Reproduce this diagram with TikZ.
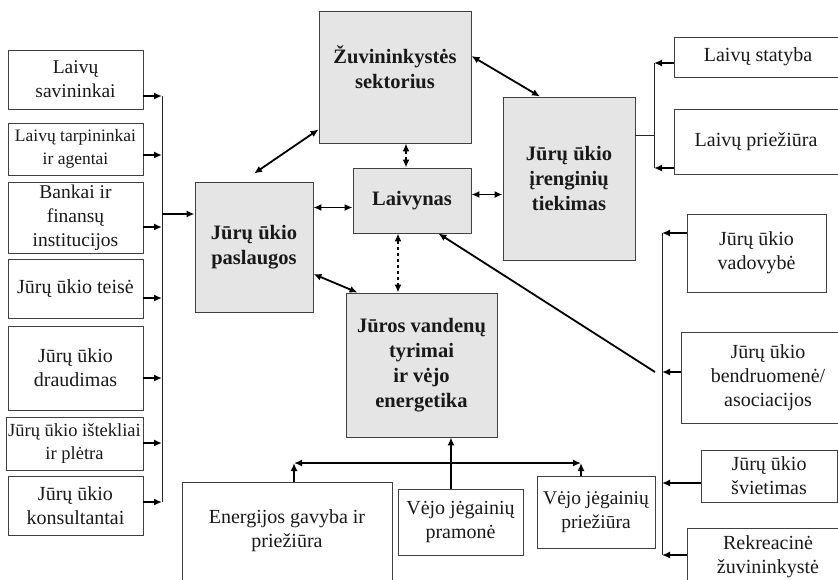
\documentclass[tikz,border=0pt]{standalone}
\usepackage{fontspec}
\setmainfont{Liberation Serif}
\usetikzlibrary{arrows.meta}

\begin{document}
\begin{tikzpicture}[x=1pt,y=-1pt,
    sz/.style 2 args={minimum width=#1pt,minimum height=#2pt},
    box/.style={draw=black!75,line width=0.9pt,align=center,inner sep=0pt,text=black!90,font=\fontsize{20}{24}\selectfont},
    core/.style={box,fill=black!10,font=\fontsize{20.5}{25}\selectfont\bfseries},
    arr/.style={line width=1.8pt,-{Latex[length=8pt,width=7pt]}},
    biarr/.style={line width=1.8pt,{Latex[length=8pt,width=7pt]}-{Latex[length=8pt,width=7pt]}},
    bus/.style={line width=0.9pt,black!85}]
    \useasboundingbox (0,0) rectangle (838,579);

    % Left column
    \node[box,sz={135}{59},font=\fontsize{19.5}{24}\selectfont] (owners) at (75.5,79.5) {Laivų\\savininkai};
    \node[box,sz={135}{52},font=\fontsize{17.5}{23}\selectfont] (brokers) at (75.5,149) {Laivų tarpininkai\\ir agentai};
    \node[box,sz={135}{71},font=\fontsize{19.5}{24}\selectfont] (banks) at (75.5,217.5) {Bankai ir\\finansų\\institucijos};
    \node[box,sz={135}{59}] (law) at (75.5,288.5) {Jūrų ūkio teisė};
    \node[box,sz={135}{84}] (insur) at (75.5,368) {Jūrų ūkio\\draudimas};
    \node[box,sz={137}{53},font=\fontsize{18.5}{23}\selectfont] (resour) at (74.5,443.5) {Jūrų ūkio ištekliai\\ir plėtra};
    \node[box,sz={135}{59}] (consult) at (75.5,505.5) {Jūrų ūkio\\konsultantai};

    % Core sectors
    \node[core,sz={152}{132}] (fish) at (395,77) {Žuvininkystės\\sektorius\\[-5pt]};
    \node[core,sz={118}{130}] (serv) at (254,247) {Jūrų ūkio\\paslaugos};
    \node[core,sz={118}{65}] (fleet) at (412,200.5) {Laivynas};
    \node[core,sz={151}{144}] (research) at (421.5,365) {Jūros vandenų\\tyrimai\\ir vėjo\\energetika};
    \node[core,sz={132}{163}] (supply) at (569,178.5) {Jūrų ūkio\\įrenginių\\tiekimas};

    % Right top
    \node[box,sz={168}{40}] (build) at (758,57) {Laivų statyba};
    \node[box,sz={164}{65}] (repair) at (756,141.5) {Laivų priežiūra};

    % Right column
    \node[box,sz={139}{78}] (manage) at (756.5,253) {Jūrų ūkio\\vadovybė};
    \node[box,sz={174}{91}] (assoc) at (768,377.5) {Jūrų ūkio\\bendruomenė/\\asociacijos};
    \node[box,sz={136}{52}] (edu) at (769,476) {Jūrų ūkio\\švietimas};
    \node[box,sz={162}{58}] (recr) at (768,557) {Rekreacinė\\žuvininkystė};

    % Bottom row
    \node[box,sz={210}{98}] (energy) at (287,531) {Energijos gavyba ir\\priežiūra};
    \node[box,sz={125}{66}] (windind) at (460.5,522) {Vėjo jėgainių\\pramonė};
    \node[box,sz={118}{72},font=\fontsize{19.5}{24}\selectfont] (windrep) at (596,512) {Vėjo jėgainių\\priežiūra};

    % Left bus
    \coordinate (lt) at (162,96);
    \coordinate (lb) at (162,502);
    \draw[bus] (lt) -- (lb);
    \draw[arr] (owners.east |- lt) -- (lt);
    \draw[arr] (brokers.east |- 162,155) -- (162,155);
    \draw[arr] (banks.east |- 162,227) -- (162,227);
    \draw[arr] (law.east |- 162,298) -- (162,298);
    \draw[arr] (insur.east |- 162,378) -- (162,378);
    \draw[arr] (resour.east |- 162,443) -- (162,443);
    \draw[arr] (consult.east |- lb) -- (lb);
    \draw[arr] (162,214) -- (serv.west |- 162,214);

    % Links between core sectors
    \draw[biarr] ([yshift=14pt]fish.south west) -- ([yshift=8pt]serv.north);
    \draw[biarr] ([yshift=21pt]fish.east) -- ([xshift=-29pt]supply.north);
    \draw[biarr,dashed] ([xshift=11pt]fish.south) -- ([xshift=-6pt]fleet.north);
    \draw[biarr] ([yshift=6pt]fleet.east) -- ([yshift=6pt]fleet.east -| supply.west);
    \draw[biarr] ([yshift=-7pt]fleet.west) -- ([yshift=-7pt]fleet.west -| serv.east);
    \draw[biarr,dashed] ([xshift=-14pt]fleet.south) -- ([xshift=-14pt]fleet.south |- research.north);
    \draw[biarr] ([yshift=-27pt]serv.east) -- ([xshift=12pt]research.north west);

    % Shipbuilding and repair
    \draw[bus] (supply.east |- 654,135) -- (654,135);
    \draw[bus] (654,63) -- (654,168);
    \draw[arr] (build.west |- 654,63) -- (654,63);
    \draw[arr] (repair.west |- 654,168) -- (654,168);

    % Right bus
    \coordinate (rt) at (662,233);
    \coordinate (rb) at (662,555);
    \coordinate (rj) at (655,372);
    \draw[bus] (rt) -- (rb);
    \draw[arr] (manage.west |- rt) -- (rt);
    \draw[arr] (assoc.west |- 662,372) -- (662,372);
    \draw[arr] (edu.west |- 662,483) -- (662,483);
    \draw[arr] (recr.west |- rb) -- (rb);
    \draw[arr] (rj) -- ([xshift=-33pt]fleet.south east);

    % Energy links
    \coordinate (hl) at (294,463);
    \coordinate (hr) at (581,463);
    \draw[arr] ([xshift=-9.5pt]windind.north) -- ([xshift=-9.5pt]windind.north |- research.south);
    \draw[biarr] (hl) -- (hr);
    \draw[arr] (energy.north -| hl) -- (hl);
    \draw[arr] (windrep.north -| hr) -- (hr);
\end{tikzpicture}
\end{document}
